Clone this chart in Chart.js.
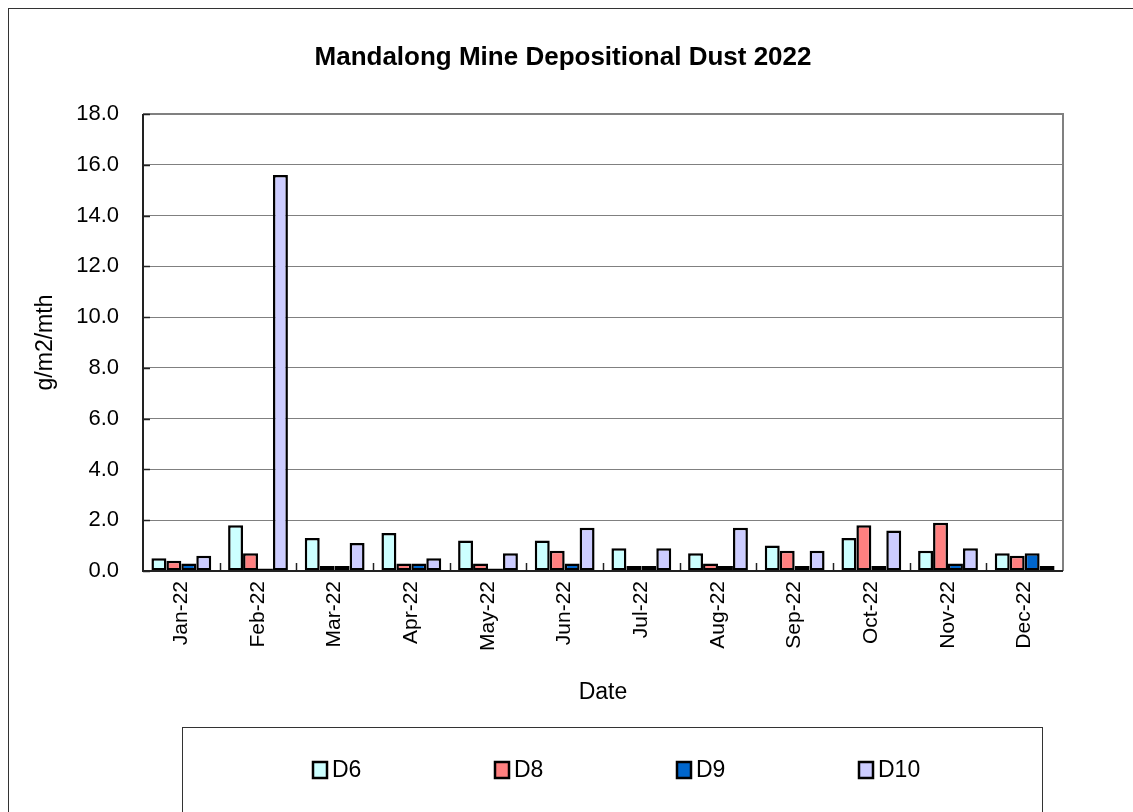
<!DOCTYPE html>
<html>
<head>
<meta charset="utf-8">
<script src="https://cdn.jsdelivr.net/npm/chart.js@4.4.0/dist/chart.umd.min.js"></script>
<style>
  html, body { margin: 0; padding: 0; background: #ffffff; }
  #wrap { width: 1133px; height: 812px; position: relative; }
</style>
</head>
<body>
<div id="wrap"><canvas id="dust"></canvas></div>
<script>
// Monthly depositional dust, g/m2/mth
const months = ['Jan-22', 'Feb-22', 'Mar-22', 'Apr-22', 'May-22', 'Jun-22',
                'Jul-22', 'Aug-22', 'Sep-22', 'Oct-22', 'Nov-22', 'Dec-22'];
const d6  = [0.5, 1.8, 1.3, 1.5, 1.2, 1.2, 0.9, 0.7, 1.0, 1.3, 0.8, 0.7];
const d8  = [0.4, 0.7, 0.2, 0.3, 0.3, 0.8, 0.2, 0.3, 0.8, 1.8, 1.9, 0.6];
const d9  = [0.3, 0.1, 0.2, 0.3, 0.1, 0.3, 0.2, 0.2, 0.2, 0.2, 0.3, 0.7];
const d10 = [0.6, 15.6, 1.1, 0.5, 0.7, 1.7, 0.9, 1.7, 0.8, 1.6, 0.9, 0.2];
const yTicks = [0, 2, 4, 6, 8, 10, 12, 14, 16, 18];
const chartTitle = 'Mandalong Mine Depositional Dust 2022';

const FONT = '"Liberation Sans", Arial, sans-serif';
const colors = {
  d6: '#ccffff',
  d8: '#ff8080',
  d9: '#0066cc',
  d10: '#ccccff',
  grid: '#808080',
  ink: '#000000'
};

// frame, title, plot border, inner ticks and legend box
const framePlugin = {
  id: 'frame',
  beforeDraw(chart) {
    const ctx = chart.ctx;
    ctx.save();
    ctx.fillStyle = '#ffffff';
    ctx.fillRect(0, 0, chart.width, chart.height);
    ctx.strokeStyle = '#333333';
    ctx.lineWidth = 1;
    ctx.strokeRect(8.5, 8.5, chart.width + 20, chart.height + 20);
    // title centred on the whole frame
    ctx.fillStyle = colors.ink;
    ctx.font = 'bold 26px ' + FONT;
    ctx.textAlign = 'center';
    ctx.textBaseline = 'middle';
    ctx.fillText(chartTitle, 563, 58);
    ctx.restore();
  },
  afterDraw(chart) {
    const ctx = chart.ctx;
    const area = chart.chartArea;
    const xs = chart.scales.x;
    const ys = chart.scales.y;
    ctx.save();
    // plot border: grey top/right, dark left/bottom
    ctx.strokeStyle = colors.grid;
    ctx.lineWidth = 2;
    ctx.beginPath();
    ctx.moveTo(area.left, area.top);
    ctx.lineTo(area.right, area.top);
    ctx.lineTo(area.right, area.bottom);
    ctx.stroke();
    ctx.strokeStyle = '#222222';
    ctx.beginPath();
    ctx.moveTo(area.left, area.top);
    ctx.lineTo(area.left, area.bottom);
    ctx.lineTo(area.right, area.bottom);
    ctx.stroke();
    // small inner tick marks
    ctx.lineWidth = 1.5;
    for (let i = 1; i < months.length; i++) {
      const x = Math.round(xs.getPixelForValue(i - 0.5)) + 0.5;
      ctx.beginPath();
      ctx.moveTo(x, area.bottom);
      ctx.lineTo(x, area.bottom - 8);
      ctx.stroke();
    }
    yTicks.forEach(v => {
      const y = Math.round(ys.getPixelForValue(v)) + 0.5;
      ctx.beginPath();
      ctx.moveTo(area.left, y);
      ctx.lineTo(area.left + 7, y);
      ctx.stroke();
    });

    // legend box
    ctx.strokeStyle = '#333333';
    ctx.lineWidth = 1;
    ctx.strokeRect(182.5, 727.5, 860, 120);
    ctx.font = '23px ' + FONT;
    ctx.textAlign = 'left';
    ctx.textBaseline = 'middle';
    chart.data.datasets.forEach((ds, i) => {
      const bx = 313 + i * 182;
      const by = 762;
      ctx.fillStyle = ds.backgroundColor;
      ctx.fillRect(bx, by, 14, 16);
      ctx.strokeStyle = colors.ink;
      ctx.lineWidth = 2.5;
      ctx.strokeRect(bx, by, 14, 16);
      ctx.fillStyle = colors.ink;
      ctx.fillText(ds.label, bx + 19, by + 9);
    });
    ctx.restore();
  }
};

function bar(label, data, color) {
  return {
    label: label,
    data: data,
    backgroundColor: color,
    borderColor: colors.ink,
    borderWidth: 2.5,
    borderSkipped: false,
    categoryPercentage: 0.78,
    barPercentage: 1.0
  };
}

new Chart(document.getElementById('dust'), {
  type: 'bar',
  data: {
    labels: months,
    datasets: [
      bar('D6', d6, colors.d6),
      bar('D8', d8, colors.d8),
      bar('D9', d9, colors.d9),
      bar('D10', d10, colors.d10)
    ]
  },
  options: {
    responsive: true,
    maintainAspectRatio: false,
    animation: false,
    layout: { padding: { left: 32, right: 70, top: 114, bottom: 100 } },
    plugins: {
      legend: { display: false },
      tooltip: { enabled: false },
      title: { display: false }
    },
    scales: {
      x: {
        grid: { display: false, drawTicks: false },
        border: { display: false },
        ticks: {
          color: colors.ink,
          font: { family: FONT, size: 21 },
          minRotation: 90,
          maxRotation: 90,
          padding: 10
        },
        title: {
          display: true,
          text: 'Date',
          color: colors.ink,
          font: { family: FONT, size: 23 },
          padding: { top: 0, bottom: 6 }
        },
        afterFit(scale) { scale.height = 141; }
      },
      y: {
        min: 0,
        max: 18,
        grid: { color: colors.grid, lineWidth: 1, drawTicks: false },
        border: { display: false },
        afterBuildTicks(scale) { scale.ticks = yTicks.map(v => ({ value: v })); },
        ticks: {
          color: colors.ink,
          font: { family: FONT, size: 22 },
          padding: 24,
          callback: v => Number(v).toFixed(1)
        },
        title: {
          display: true,
          text: 'g/m2/mth',
          color: colors.ink,
          font: { family: FONT, size: 23 },
          padding: { top: 0, bottom: 10 }
        },
        afterFit(scale) { scale.width = 111; }
      }
    }
  },
  plugins: [framePlugin]
});
</script>
</body>
</html>
